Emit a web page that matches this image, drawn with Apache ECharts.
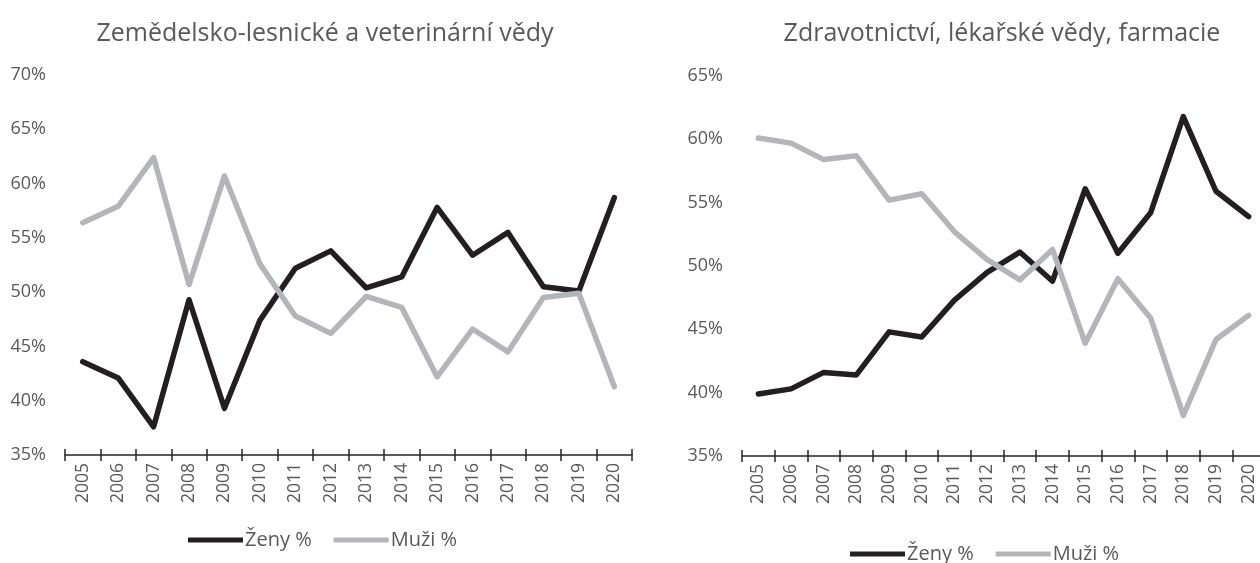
<!DOCTYPE html>
<html>
<head>
<meta charset="utf-8">
<script src="https://cdn.jsdelivr.net/npm/echarts@6/dist/echarts.min.js"></script>
<style>
  html, body { margin: 0; padding: 0; background: #fff; }
  #chart { width: 1260px; height: 563px; }
</style>
</head>
<body>
<div id="chart"></div>
<script>
var years = ['2005', '2006', '2007', '2008', '2009', '2010', '2011', '2012',
  '2013', '2014', '2015', '2016', '2017', '2018', '2019', '2020'];

var agriWomen = [43.6, 42.1, 37.6, 49.3, 39.3, 47.4, 52.2, 53.8, 50.4, 51.4, 57.8, 53.4, 55.5, 50.5, 50.1, 58.7];
var agriMen = [56.4, 57.9, 62.4, 50.7, 60.7, 52.6, 47.8, 46.2, 49.6, 48.6, 42.2, 46.6, 44.5, 49.5, 49.9, 41.3];

var healthWomen = [39.9, 40.3, 41.6, 41.4, 44.8, 44.4, 47.3, 49.5, 51.1, 48.8, 56.1, 51.0, 54.2, 61.8, 55.9, 53.9];
var healthMen = [60.1, 59.7, 58.4, 58.7, 55.2, 55.7, 52.7, 50.5, 48.9, 51.3, 43.9, 49.0, 45.9, 38.2, 44.2, 46.1];

var titles = ['Zemědelsko-lesnické a veterinární vědy', 'Zdravotnictví, lékařské vědy, farmacie'];
var seriesNames = ['Ženy %', 'Muži %'];

;(function() {
  var textColor = '#595959';
  var black = '#231f20';
  var grey = '#b4b5b8';
  var font = '"Open Sans", "DejaVu Sans", sans-serif';

  // two category axes per grid: one draws labels + outward ticks, the other inward ticks
  function xAxes(gridIndex, inside) {
    return {
      type: 'category',
      gridIndex: gridIndex,
      position: 'bottom',
      data: years,
      boundaryGap: true,
      axisLine: { show: !inside, onZero: false, lineStyle: { color: '#262626', width: 1.5 } },
      axisTick: { show: true, inside: inside, length: 6, lineStyle: { color: '#262626', width: 1.5 } },
      axisLabel: {
        show: !inside, rotate: 90, margin: 8, color: textColor,
        fontFamily: font, fontSize: 17.5
      },
      splitLine: { show: false }
    };
  }

  function yAxis(gridIndex, max) {
    return {
      type: 'value',
      gridIndex: gridIndex,
      min: 35, max: max, interval: 5,
      axisLine: { show: false },
      axisTick: { show: false },
      splitLine: { show: false },
      axisLabel: {
        margin: 19, color: textColor, fontFamily: font, fontSize: 18,
        formatter: '{value}%'
      }
    };
  }

  function line(name, data, idx, color) {
    return {
      name: name, type: 'line', data: data,
      xAxisIndex: idx * 2, yAxisIndex: idx,
      symbol: 'none', silent: true,
      lineStyle: { color: color, width: 5.5, cap: 'round', join: 'round' },
      itemStyle: { color: color }
    };
  }

  function legend(left, top) {
    return {
      data: seriesNames, left: left, top: top,
      icon: 'rect', itemWidth: 55, itemHeight: 5, itemGap: 22,
      selectedMode: false,
      textStyle: { color: textColor, fontFamily: font, fontSize: 20, padding: [0, 0, 0, -3] }
    };
  }

  var chart = echarts.init(document.getElementById('chart'), null, { renderer: 'canvas' });
  chart.setOption({
    animation: false,
    backgroundColor: '#fff',
    title: [
      { text: titles[0], left: 320, top: 16, textAlign: 'center',
        textStyle: { color: textColor, fontFamily: font, fontSize: 25, fontWeight: 'normal' } },
      { text: titles[1], left: 997, top: 16, textAlign: 'center',
        textStyle: { color: textColor, fontFamily: font, fontSize: 25, fontWeight: 'normal' } }
    ],
    legend: [legend(183, 525), legend(845, 539)],
    grid: [
      { left: 65, right: 628, top: 75, bottom: 108, containLabel: false, outerBoundsMode: 'none' },
      { left: 742, right: -5, top: 76, bottom: 107, containLabel: false, outerBoundsMode: 'none' }
    ],
    xAxis: [xAxes(0, false), xAxes(0, true), xAxes(1, false), xAxes(1, true)],
    yAxis: [yAxis(0, 70), yAxis(1, 65)],
    series: [
      line(seriesNames[0], agriWomen, 0, black),
      line(seriesNames[1], agriMen, 0, grey),
      line(seriesNames[0], healthWomen, 1, black),
      line(seriesNames[1], healthMen, 1, grey)
    ]
  });
})();
</script>
</body>
</html>
